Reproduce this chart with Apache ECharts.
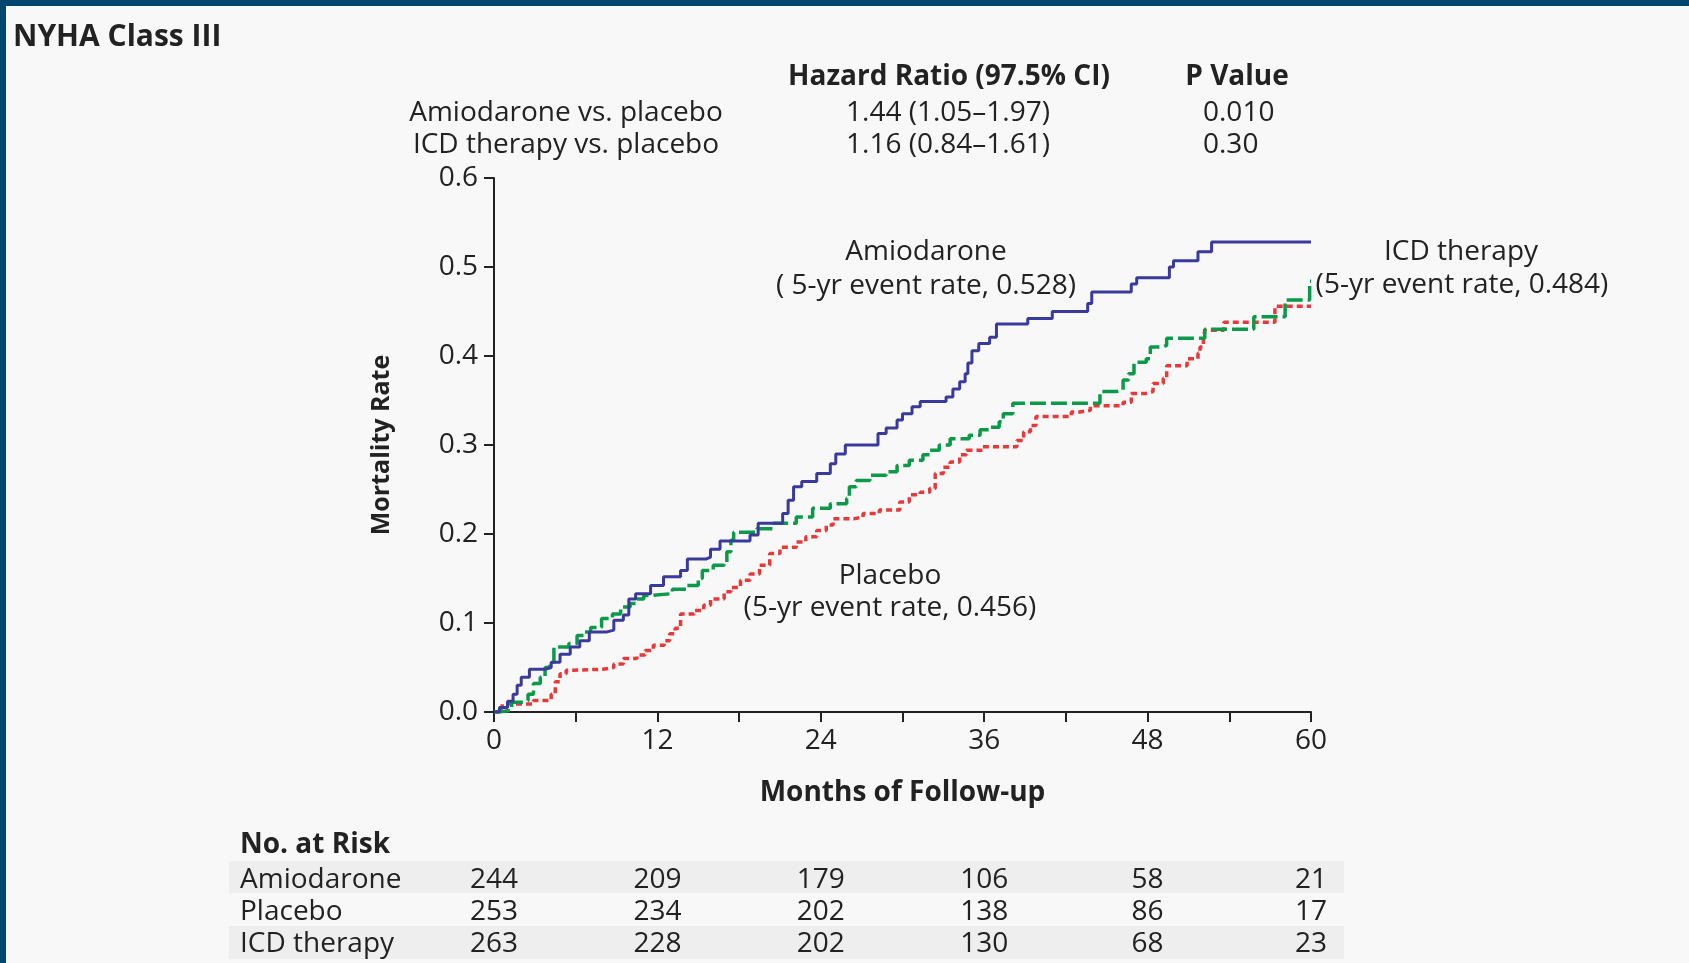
<!DOCTYPE html>
<html>
<head>
<meta charset="utf-8">
<title>NYHA Class III</title>
<script src="https://cdn.jsdelivr.net/npm/echarts@6/dist/echarts.min.js"></script>
<style>
  html, body { margin: 0; padding: 0; background: #f8f8f8; }
  #chart { width: 1689px; height: 963px; }
</style>
</head>
<body>
<div id="chart"></div>
<script>
// Kaplan-Meier step points: [month, mortality rate]
const amiodarone = [
  [0, 0], [0.4, 0.005], [1.0, 0.012], [1.4, 0.02], [1.7, 0.03], [2.0, 0.039], [2.6, 0.048],
  [3.75, 0.05], [4.2, 0.056], [4.85, 0.065], [5.6, 0.073], [6.3, 0.08], [7.0, 0.09],
  [8.3, 0.092], [8.8, 0.103], [9.5, 0.109], [9.9, 0.127], [10.4, 0.133], [11.5, 0.142],
  [12.45, 0.152], [13.7, 0.159], [14.2, 0.172], [15.6, 0.174], [15.9, 0.183], [16.6, 0.192],
  [18.8, 0.199], [19.4, 0.212], [21.2, 0.223], [21.6, 0.238], [22.0, 0.253], [22.6, 0.259],
  [23.7, 0.268], [24.7, 0.279], [25.1, 0.29], [25.8, 0.3], [28.2, 0.313], [28.8, 0.319],
  [29.6, 0.328], [30.0, 0.335], [30.7, 0.343], [31.3, 0.349], [33.2, 0.354], [33.7, 0.363],
  [34.2, 0.371], [34.6, 0.38], [34.8, 0.392], [35.1, 0.406], [35.6, 0.414], [36.4, 0.421],
  [36.9, 0.436], [39.2, 0.442], [41.0, 0.45], [43.6, 0.459], [43.9, 0.472], [46.8, 0.481],
  [47.2, 0.488], [49.6, 0.5], [49.9, 0.507], [51.7, 0.517], [52.7, 0.528], [60, 0.528]
];
const placebo = [
  [0, 0], [0.4, 0.004], [0.6, 0.009], [2.9, 0.013], [4.2, 0.02], [4.5, 0.034], [4.85, 0.043],
  [5.3, 0.047], [5.8, 0.048], [8.0, 0.05], [8.8, 0.054], [9.5, 0.06], [10.5, 0.064],
  [11.1, 0.069], [11.7, 0.075], [12.5, 0.08], [12.9, 0.088], [13.3, 0.094], [13.7, 0.11],
  [14.7, 0.114], [15.4, 0.12], [15.9, 0.127], [16.9, 0.135], [17.4, 0.14], [18.1, 0.148],
  [18.8, 0.155], [19.5, 0.165], [20.25, 0.178], [21.0, 0.185], [22.2, 0.191], [22.9, 0.197],
  [23.7, 0.204], [24.4, 0.21], [24.9, 0.217], [26.4, 0.219], [27.1, 0.223], [28.3, 0.227],
  [29.8, 0.236], [30.5, 0.244], [31.3, 0.247], [32.0, 0.251], [32.4, 0.268], [33.0, 0.275],
  [33.5, 0.281], [34.2, 0.289], [34.7, 0.294], [35.9, 0.298], [38.4, 0.305], [38.9, 0.315],
  [39.4, 0.322], [39.8, 0.332], [42.4, 0.337], [43.0, 0.339], [43.8, 0.344], [46.2, 0.348],
  [46.8, 0.358], [47.9, 0.36], [48.4, 0.369], [49.15, 0.375], [49.4, 0.389], [50.9, 0.397],
  [51.7, 0.403], [51.85, 0.41], [52.1, 0.418], [52.2, 0.429], [53.6, 0.438], [57.35, 0.456],
  [60, 0.456]
];
const icdTherapy = [
  [0, 0], [0.4, 0.002], [1.3, 0.011], [2.2, 0.013], [2.5, 0.02], [2.9, 0.032], [3.4, 0.039],
  [3.75, 0.05], [4.1, 0.056], [4.4, 0.073], [5.5, 0.077], [6.1, 0.086], [6.6, 0.09],
  [7.1, 0.095], [7.9, 0.105], [8.7, 0.11], [9.3, 0.118], [10.0, 0.122], [10.5, 0.127],
  [11.0, 0.131], [11.5, 0.133], [13.1, 0.138], [14.2, 0.142], [15.0, 0.15], [15.3, 0.159],
  [16.1, 0.165], [16.9, 0.168], [17.1, 0.18], [17.4, 0.193], [17.6, 0.202], [19.3, 0.206],
  [20.5, 0.212], [22.2, 0.219], [23.4, 0.229], [24.7, 0.234], [25.9, 0.24], [26.1, 0.253],
  [26.6, 0.26], [27.6, 0.266], [28.8, 0.27], [29.6, 0.277], [30.5, 0.283], [31.5, 0.289],
  [32.0, 0.294], [32.7, 0.3], [33.5, 0.307], [34.9, 0.311], [35.7, 0.317], [36.4, 0.32],
  [37.1, 0.326], [37.4, 0.335], [38.1, 0.347], [44.5, 0.36], [45.7, 0.362], [46.2, 0.373],
  [46.6, 0.38], [47.0, 0.393], [47.9, 0.397], [48.2, 0.41], [49.1, 0.412], [49.4, 0.42],
  [52.2, 0.43], [55.8, 0.444], [58.1, 0.463], [59.9, 0.484], [60, 0.484]
];

// number at risk table
const riskMonths = [0, 12, 24, 36, 48, 60];
const riskGroups = ['Amiodarone', 'Placebo', 'ICD therapy'];
const riskAmiodarone = [244, 209, 179, 106, 58, 21];
const riskPlacebo = [253, 234, 202, 138, 86, 17];
const riskIcd = [263, 228, 202, 130, 68, 23];

// hazard ratio table
const hrRows = ['Amiodarone vs. placebo', 'ICD therapy vs. placebo'];
const hrValues = ['1.44 (1.05\u20131.97)', '1.16 (0.84\u20131.61)'];
const pValues = ['0.010', '0.30'];

const FONT = '"Open Sans", "Noto Sans", sans-serif';
const INK = '#222';
const FS = 28;

const chart = echarts.init(document.getElementById('chart'));

const option = {
  backgroundColor: '#f8f8f8',
  animation: false,
  textStyle: { fontFamily: FONT, color: INK },
  grid: { left: 494, right: 378, top: 178, bottom: 251 },
  xAxis: {
    type: 'value',
    min: 0, max: 60, interval: 6,
    name: 'Months of Follow-up',
    nameLocation: 'middle',
    nameGap: 67,
    nameTextStyle: { fontFamily: FONT, fontWeight: 'bold', fontSize: FS, color: INK },
    axisLine: { lineStyle: { color: INK, width: 2 } },
    axisTick: { length: 10, lineStyle: { color: INK, width: 2 } },
    axisLabel: {
      margin: 15, fontSize: FS, color: INK, fontFamily: FONT,
      formatter: v => (riskMonths.indexOf(v) >= 0 ? String(v) : '')
    },
    splitLine: { show: false }
  },
  yAxis: {
    type: 'value',
    min: 0, max: 0.6, interval: 0.1,
    name: 'Mortality Rate',
    nameLocation: 'middle',
    nameRotate: 90,
    nameGap: 100,
    nameTextStyle: { fontFamily: FONT, fontWeight: 'bold', fontSize: 25, color: INK },
    axisLine: { show: true, lineStyle: { color: INK, width: 2 } },
    axisTick: { show: true, length: 10, lineStyle: { color: INK, width: 2 } },
    axisLabel: { margin: 16, fontSize: FS, color: INK, fontFamily: FONT, formatter: v => v.toFixed(1) },
    splitLine: { show: false }
  },
  series: [
    {
      name: 'Placebo', type: 'line', step: 'end', showSymbol: false, data: placebo,
      lineStyle: { color: '#e8393a', width: 3.5, type: [6, 4] }, z: 2
    },
    {
      name: 'ICD therapy', type: 'line', step: 'end', showSymbol: false, data: icdTherapy,
      lineStyle: { color: '#0b9a48', width: 3.5, type: [16, 5] }, z: 3
    },
    {
      name: 'Amiodarone', type: 'line', step: 'end', showSymbol: false, data: amiodarone,
      lineStyle: { color: '#3a3a9c', width: 3 }, z: 4
    }
  ]
};

chart.setOption(option);

// text helper for graphic labels
const txt = (text, x, y, align, bold, size) => ({
  type: 'text', x: x, y: y + 3, z: 10,
  style: {
    text: text, fill: INK, font: (bold ? 'bold ' : '') + (size || FS) + 'px ' + FONT,
    textAlign: align, textVerticalAlign: 'middle'
  }
});

const graphics = [
  { type: 'rect', shape: { x: 0, y: 0, width: 1689, height: 6 }, style: { fill: '#01466f' } },
  { type: 'rect', shape: { x: 0, y: 0, width: 6, height: 963 }, style: { fill: '#01466f' } },
  txt('NYHA Class III', 13, 34, 'left', true, 30),
  txt('Hazard Ratio (97.5% CI)', 949, 74, 'center', true),
  txt('P Value', 1237, 74, 'center', true),
  txt('Amiodarone', 926, 249, 'center'),
  txt('( 5-yr event rate, 0.528)', 926, 283, 'center'),
  txt('ICD therapy', 1461, 249, 'center'),
  txt('(5-yr event rate, 0.484)', 1462, 282, 'center'),
  txt('Placebo', 890, 573, 'center'),
  txt('(5-yr event rate, 0.456)', 890, 605, 'center'),
  txt('No. at Risk', 240, 842, 'left', true),
  { type: 'rect', shape: { x: 229, y: 861, width: 1115, height: 32 }, style: { fill: '#eeeeee' }, z: 1 },
  { type: 'rect', shape: { x: 229, y: 926, width: 1115, height: 33 }, style: { fill: '#eeeeee' }, z: 1 }
];

hrRows.forEach((r, i) => {
  const y = 110 + i * 32;
  graphics.push(txt(r, 566, y, 'center'));
  graphics.push(txt(hrValues[i], 948, y, 'center'));
  graphics.push(txt(pValues[i], 1203, y, 'left'));
});

const riskRows = [riskAmiodarone, riskPlacebo, riskIcd];
riskGroups.forEach((g, i) => {
  const y = 877 + i * 32;
  graphics.push(txt(g, 240, y, 'left'));
  riskMonths.forEach((m, j) => {
    const x = chart.convertToPixel({ xAxisIndex: 0 }, m);
    graphics.push(txt(String(riskRows[i][j]), x, y, 'center'));
  });
});

chart.setOption({ graphic: graphics });

window.addEventListener('resize', () => chart.resize());
</script>
</body>
</html>
